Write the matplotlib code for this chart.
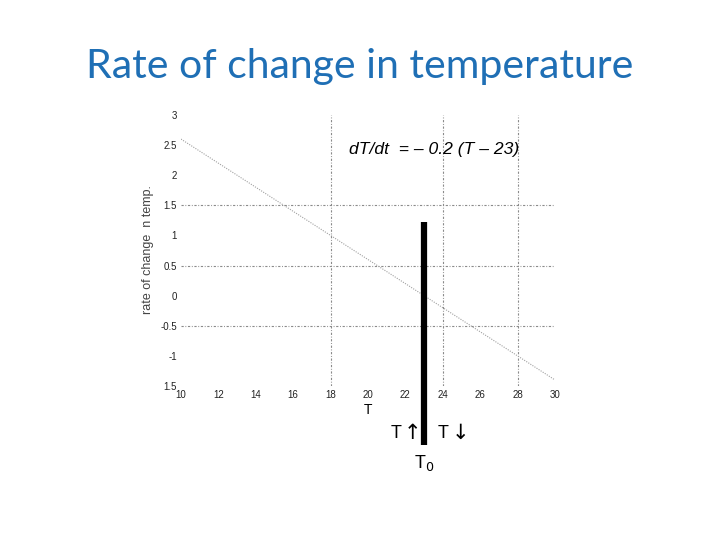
import matplotlib
matplotlib.use("Agg")
import matplotlib.pyplot as plt
import numpy as np

# Data
T_values = [10, 30]
rate_values = [2.6, -1.4]  # dT/dt = -0.2 (T - 23)
x_ticks = [10, 12, 14, 16, 18, 20, 22, 24, 26, 28, 30]
y_ticks = [-1.5, -1, -0.5, 0, 0.5, 1, 1.5, 2, 2.5, 3]
y_tick_labels = ["1.5", "-1", "-0.5", "0", "0.5", "1", "1.5", "2", "2.5", "3"]
v_grid = [18, 24, 28]
h_grid = [1.5, 0.5, -0.5]
T0 = 23
bar_range = [-2.48, 1.23]

fig = plt.figure(figsize=(7.2, 5.4), dpi=100)
ax = fig.add_axes([181/720, 1-386/540, (555-181)/720, (386-115)/540])
ax.set_xlim(10, 30)
ax.set_ylim(-1.5, 3)
for s in ax.spines.values():
    s.set_visible(False)

gstyle = dict(color="#8a8a8a", lw=0.8, ls=(0, (2, 1.5, 0.8, 1.5)))
for x in v_grid:
    ax.axvline(x, **gstyle)
for y in h_grid:
    ax.axhline(y, **gstyle)

ax.plot(T_values, rate_values, color="#a0a0a0", lw=0.8, ls=(0, (1, 1.2)))

ax.plot([T0, T0], bar_range, color="black", lw=4.5, clip_on=False, solid_capstyle="butt")

ax.set_xticks(x_ticks)
ax.set_xticklabels([str(v) for v in x_ticks], fontsize=7, family="Liberation Sans")
ax.set_yticks(y_ticks)
ax.set_yticklabels(y_tick_labels, fontsize=7, family="Liberation Sans")
ax.tick_params(length=0, pad=3, colors="#222222")

fig.text(0.5, 1-78/540, "Rate of change in temperature",
         ha="center", va="baseline", fontsize=29.5, color="#1F6FB5", family="Lato")

ax.text(19.0, 2.42, "dT/dt  = \u2013 0.2 (T \u2013 23)", fontsize=12.6, style="italic",
        family="Liberation Sans", color="black", ha="left", va="center")

fig.text(148/720, 1-250/540, "rate of change  n temp.", rotation=90, fontsize=9,
         family="Liberation Sans", color="#444444", ha="center", va="center")

fig.text(368/720, 1-410/540, "T", fontsize=10, family="Liberation Sans", ha="center", va="center")
fig.text(396.5/720, 1-434/540, "T", fontsize=13, family="Liberation Sans", ha="center", va="center")
fig.text(412/720, 1-433/540, "\u2191", fontsize=15, family=["DejaVu Sans"],
         ha="center", va="center")
fig.text(443.5/720, 1-434/540, "T", fontsize=13, family="Liberation Sans", ha="center", va="center")
fig.text(460/720, 1-433/540, "\u2193", fontsize=15, family=["DejaVu Sans"],
         ha="center", va="center")
fig.text(424/720, 1-463/540, "T$_0$", fontsize=13, family="Liberation Sans", ha="center", va="center")

fig.savefig("out.png", dpi=100)
